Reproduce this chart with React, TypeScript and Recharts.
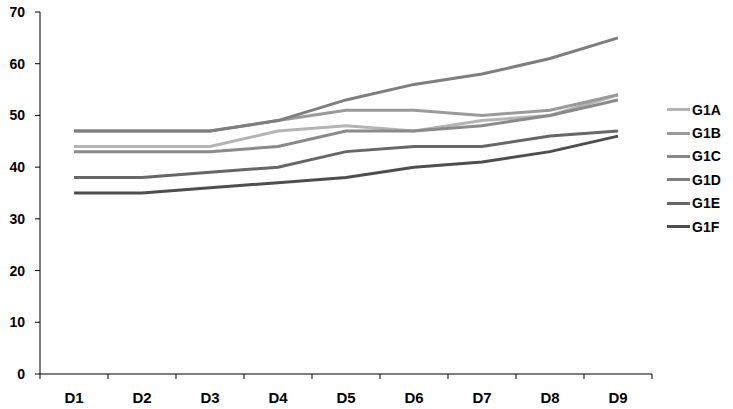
import { LineChart, Line, XAxis, YAxis } from 'recharts';

const categories = ['D1', 'D2', 'D3', 'D4', 'D5', 'D6', 'D7', 'D8', 'D9'];
const seriesNames = ['G1A', 'G1B', 'G1C', 'G1D', 'G1E', 'G1F'];
const g1a = [44, 44, 44, 47, 48, 47, 49, 50, 54];
const g1b = [47, 47, 47, 49, 51, 51, 50, 51, 54];
const g1c = [43, 43, 43, 44, 47, 47, 48, 50, 53];
const g1d = [47, 47, 47, 49, 53, 56, 58, 61, 65];
const g1e = [38, 38, 39, 40, 43, 44, 44, 46, 47];
const g1f = [35, 35, 36, 37, 38, 40, 41, 43, 46];
const yTicks = [0, 10, 20, 30, 40, 50, 60, 70];

const colors: Record<string, string> = {
  G1A: '#b4b4b4',
  G1B: '#9a9a9a',
  G1C: '#8a8a8a',
  G1D: '#7e7e7e',
  G1E: '#676767',
  G1F: '#4e4e4e',
};

const values: Record<string, number[]> = { G1A: g1a, G1B: g1b, G1C: g1c, G1D: g1d, G1E: g1e, G1F: g1f };

const data = categories.map((label, i) => {
  const row: Record<string, number | string> = { x: i + 0.5, label };
  seriesNames.forEach((s) => {
    row[s] = values[s][i];
  });
  return row;
});

// tick marks on band edges, labels in the middle of each band
const xTicks: number[] = [];
for (let i = 0; i <= categories.length * 2; i++) xTicks.push(i / 2);

const fontFamily = 'Liberation Sans, Arial, sans-serif';
const yFont = { fontFamily, fontWeight: 700, fontSize: 14, fill: '#000' };

const XTick = (props: any) => {
  const { x, y, payload } = props;
  const v = payload.value as number;
  if (Number.isInteger(v)) {
    return <line x1={x} x2={x} y1={y - 8} y2={y - 3} stroke="#000" strokeWidth={1} />;
  }
  return (
    <text x={x} y={y + 21} textAnchor="middle" fontFamily={fontFamily} fontWeight={700} fontSize={15} fill="#000">
      {categories[Math.floor(v)]}
    </text>
  );
};

export default function App() {
  return (
    <div style={{ position: 'absolute', left: 0, top: 0, width: 733, height: 409, background: '#fff' }}>
      <LineChart width={733} height={409} data={data} margin={{ top: 12, right: 81, bottom: 0, left: 0 }}>
        <XAxis
          dataKey="x"
          type="number"
          domain={[0, categories.length]}
          ticks={xTicks}
          interval={0}
          tickLine={false}
          axisLine={{ stroke: '#000' }}
          height={35}
          tick={<XTick />}
        />
        <YAxis
          domain={[0, 70]}
          ticks={yTicks}
          interval={0}
          width={40}
          tickSize={5}
          tickMargin={10}
          axisLine={{ stroke: '#000' }}
          tickLine={{ stroke: '#000' }}
          tick={yFont}
        />
        {seriesNames.map((s) => (
          <Line
            key={s}
            dataKey={s}
            type="linear"
            stroke={colors[s]}
            strokeWidth={3}
            dot={false}
            isAnimationActive={false}
          />
        ))}
      </LineChart>
      <div style={{ position: 'absolute', left: 667, top: 98 }}>
        {seriesNames.map((s) => (
          <div key={s} style={{ display: 'flex', alignItems: 'center', height: 23.4 }}>
            <span style={{ display: 'inline-block', width: 23, height: 3, background: colors[s], marginRight: 2 }} />
            <span style={{ fontFamily, fontWeight: 700, fontSize: 14 }}>{s}</span>
          </div>
        ))}
      </div>
    </div>
  );
}
